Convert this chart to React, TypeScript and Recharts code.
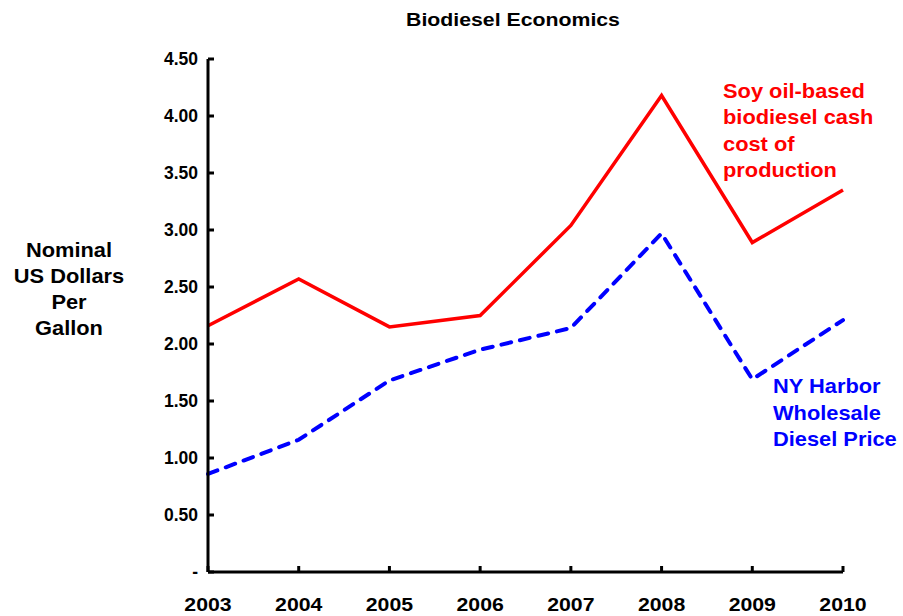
import { Line, LineChart, XAxis, YAxis } from "recharts";

document.body.style.margin = "0";

const years = ["2003", "2004", "2005", "2006", "2007", "2008", "2009", "2010"];
const soyCost = [2.16, 2.57, 2.15, 2.25, 3.04, 4.18, 2.89, 3.35];
const nyHarbor = [0.86, 1.16, 1.68, 1.95, 2.14, 2.97, 1.69, 2.21];
const yTicks = [0, 0.5, 1, 1.5, 2, 2.5, 3, 3.5, 4, 4.5];

const yLabelLines = ["Nominal", "US Dollars", "Per", "Gallon"];
const soyLabelLines = ["Soy oil-based", "biodiesel cash", "cost of", "production"];
const nyLabelLines = ["NY Harbor", "Wholesale", "Diesel Price"];

const data = years.map((year, i) => ({
  year,
  soy: soyCost[i],
  ny: nyHarbor[i],
}));

const FONT = "'Liberation Sans', Arial, sans-serif";
const Y_MARGIN = 10;
const X_MARGIN = 26;
const STRETCH = 1.12;

// stretched bold text, the reference glyphs are a bit wider than Arial
function WideText({
  x,
  y,
  size,
  anchor,
  color,
  dy,
  children,
}: {
  x: number;
  y: number;
  size: number;
  anchor: "start" | "middle" | "end";
  color: string;
  dy?: string;
  children: string;
}) {
  return (
    <text
      transform={`translate(${x},${y}) scale(${STRETCH},1)`}
      x={0}
      y={0}
      dy={dy}
      textAnchor={anchor}
      fontFamily={FONT}
      fontWeight="bold"
      fontSize={size}
      fill={color}
    >
      {children}
    </text>
  );
}

function YTick(props: any) {
  const { x, y, payload } = props;
  const v = payload.value as number;
  const axisX = x + Y_MARGIN;
  return (
    <g>
      <line x1={axisX} x2={axisX + 6} y1={y} y2={y} stroke="#000" strokeWidth={3} />
      <text
        x={x}
        y={y}
        dy="0.36em"
        textAnchor="end"
        fontFamily={FONT}
        fontWeight="bold"
        fontSize={17.5}
        fill="#000"
      >
        {v === 0 ? "-" : v.toFixed(2)}
      </text>
    </g>
  );
}

function XTick(props: any) {
  const { x, y, payload } = props;
  const axisY = y - X_MARGIN;
  return (
    <g>
      <line x1={x} x2={x} y1={axisY} y2={axisY - 6} stroke="#000" strokeWidth={3} />
      <WideText x={x} y={y} dy="0.71em" size={19} anchor="middle" color="#000">
        {payload.value}
      </WideText>
    </g>
  );
}

function TextBlock({
  lines,
  x,
  y,
  step,
  anchor,
  color,
}: {
  lines: string[];
  x: number;
  y: number;
  step: number;
  anchor: "start" | "middle" | "end";
  color: string;
}) {
  return (
    <>
      {lines.map((line, i) => (
        <WideText key={line} x={x} y={y + i * step} size={19.5} anchor={anchor} color={color}>
          {line}
        </WideText>
      ))}
    </>
  );
}

export default function App() {
  return (
    <div style={{ position: "relative", width: 903, height: 616, background: "#fff" }}>
      <LineChart
        width={903}
        height={616}
        data={data}
        margin={{ top: 59, right: 60, bottom: 0, left: 148 }}
      >
        <XAxis
          dataKey="year"
          height={44}
          padding={{ left: 0, right: 0 }}
          axisLine={{ stroke: "#000", strokeWidth: 3 }}
          tickLine={false}
          tickSize={0}
          tickMargin={X_MARGIN}
          tick={<XTick />}
          interval={0}
        />
        <YAxis
          width={60}
          domain={[0, 4.5]}
          ticks={yTicks}
          interval={0}
          axisLine={{ stroke: "#000", strokeWidth: 3 }}
          tickLine={false}
          tickSize={0}
          tickMargin={Y_MARGIN}
          tick={<YTick />}
        />
        <Line
          dataKey="soy"
          stroke="#ff0000"
          strokeWidth={3.5}
          dot={false}
          type="linear"
          isAnimationActive={false}
        />
        <Line
          dataKey="ny"
          stroke="#0000ff"
          strokeWidth={4}
          strokeDasharray="10 9"
          strokeLinecap="round"
          dot={false}
          type="linear"
          isAnimationActive={false}
        />
      </LineChart>
      <svg
        width={903}
        height={616}
        style={{ position: "absolute", left: 0, top: 0, pointerEvents: "none" }}
      >
        <WideText x={513} y={26} size={19} anchor="middle" color="#000">
          Biodiesel Economics
        </WideText>
        <TextBlock lines={yLabelLines} x={69} y={257} step={26} anchor="middle" color="#000" />
        <TextBlock lines={soyLabelLines} x={723} y={98} step={26.3} anchor="start" color="#ff0000" />
        <TextBlock lines={nyLabelLines} x={773} y={393} step={26.5} anchor="start" color="#0000ff" />
      </svg>
    </div>
  );
}
